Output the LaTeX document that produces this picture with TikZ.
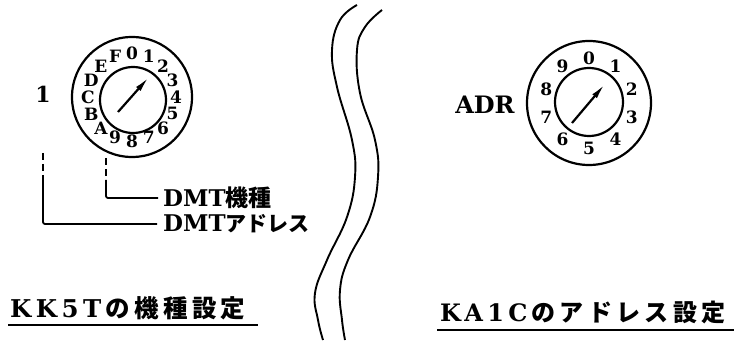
\documentclass[tikz,border=0pt]{standalone}
\usepackage{fontspec}
\setmainfont{DejaVu Serif}
\newfontfamily\jp{Noto Sans CJK JP}
\newfontfamily\wideserif{DejaVu Serif}[LetterSpace=18]
\newfontfamily\widejp{Noto Sans CJK JP}[LetterSpace=18]
\usetikzlibrary{arrows.meta,calc}
\begin{document}
\begin{tikzpicture}[x=1pt,y=-1pt,
    lbl/.style={font=\bfseries\fontsize{23}{23}\selectfont, inner sep=0pt, anchor=west},
    ttl/.style={font=\bfseries\fontsize{24.5}{24.5}\selectfont, inner sep=0pt, anchor=west},
    dig/.style={font=\bfseries\fontsize{17}{17}\selectfont, inner sep=0pt},
    ring/.style={line width=2.2pt},
    lead/.style={line width=1.8pt, rounded corners=2pt},
    leaddash/.style={line width=1.8pt, dash pattern=on 7pt off 4pt},
    pointer/.style={line width=2.2pt, -{Latex[length=16pt,width=6pt]}},
    wave/.style={line width=1.9pt},
    uline/.style={line width=2.4pt}]
    \useasboundingbox (0,0) rectangle (742,342);
    % Drehschalter links
    \coordinate (kkc) at (132,97);
    \draw[ring] (kkc) circle[radius=60pt];
    \draw[ring] (133,100) circle[radius=33pt];
    \foreach \d [count=\i from 0] in {0,1,2,3,4,5,6,7,8,9,A,B,C,D,E,F}
        \node[dig] (kk-\d) at ($(kkc)+(90-22.5*\i:44pt)$) {\d};
    \draw[pointer] (118,112) -- (149,77);
    \node[font=\bfseries\fontsize{22}{22}\selectfont, inner sep=0pt] (one) at (43,94) {1};
    % Zuleitungen
    \node[lbl] (dmtk) at (163,198) {DMT{\jp 機種}};
    \node[lbl] (dmta) at (163,224) {DMT{\jp\fontsize{21}{21}\selectfont アドレス}};
    \coordinate (a1) at (43,177);
    \coordinate (k1) at (106,180);
    \draw[leaddash] (43,153) -- (a1);
    \draw[leaddash] (106,158) -- (k1);
    \draw[lead, shorten >=6pt] (a1) |- (dmta.west);
    \draw[lead, shorten >=5pt] (k1) |- (dmtk.west);
    % Drehschalter rechts
    \coordinate (kac) at (589,103);
    \draw[ring] (kac) circle[radius=62pt];
    \draw[ring] (589,102) circle[radius=34pt];
    \foreach \d [count=\i from 0] in {0,1,2,3,4,5,6,7,8,9}
        \node[dig] (ka-\d) at ($(kac)+(90-36*\i:45pt)$) {\d};
    \draw[pointer] (572,123) -- (605,84);
    \node[font=\bfseries\fontsize{24}{24}\selectfont, inner sep=0pt] (adr) at (485,105) {ADR};
    % Wellenlinien
    \draw[wave] plot[smooth, tension=0.7] coordinates {(357,5) (340,20) (332,50) (337,87) (352,140) (355,177) (347,217) (327,260) (315,293) (318,320) (323,340)};
    \draw[wave] plot[smooth, tension=0.7] coordinates {(382,10) (365,27) (357,50) (360,93) (375,140) (378,177) (370,217) (348,260) (340,290) (342,320) (345,340)};
    % Titel
    \node[ttl] (kk5t) at (10,308) {{\wideserif KK5T}\kern4pt{\widejp の機種設定}};
    \node[ttl, font=\bfseries\fontsize{24}{24}\selectfont] (ka1c) at (440,312) {{\wideserif KA1C}\kern4pt{\widejp のアドレス設定}};
    \draw[uline] (8,325) -- (258,325);
    \draw[uline] (437,330) -- (734,330);
\end{tikzpicture}
\end{document}
